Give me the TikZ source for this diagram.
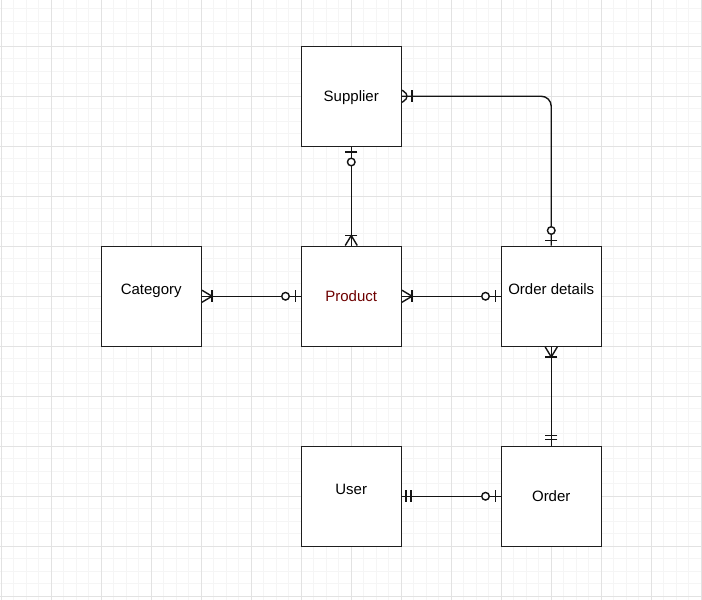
\documentclass[tikz,border=0pt]{standalone}
\usepackage{fontspec}
\setmainfont{Liberation Sans}
\usepackage{tikz}
\usetikzlibrary{decorations.markings}

\definecolor{gridminor}{RGB}{245,245,245}
\definecolor{gridmajor}{RGB}{226,226,226}
\definecolor{boxline}{RGB}{30,30,30}
\definecolor{productred}{RGB}{110,0,0}

\tikzset{
  entity/.style={draw=boxline, line width=1.5pt, fill=white, minimum size=100pt, inner sep=0pt,
    font=\fontsize{15}{18}\selectfont, text height=14pt, text depth=3pt},
  erline/.style={draw=black!92, line width=1.4pt},
  manystart/.style={postaction={decorate, decoration={markings, mark=at position 0 with {
    \draw[erline] (0pt,6pt) -- (10pt,0pt) -- (0pt,-6pt);
    \draw[erline] (10pt,6pt) -- (10pt,-6pt);}}}},
  manyend/.style={postaction={decorate, decoration={markings, mark=at position 1 with {
    \draw[erline] (0pt,6pt) -- (-10pt,0pt) -- (0pt,-6pt);
    \draw[erline] (-10pt,6pt) -- (-10pt,-6pt);}}}},
  zerostart/.style={postaction={decorate, decoration={markings, mark=at position 0 with {
    \draw[erline] (5pt,6pt) -- (5pt,-6pt);
    \draw[erline, fill=white] (15pt,0pt) circle (3.8pt);}}}},
  zeroend/.style={postaction={decorate, decoration={markings, mark=at position 1 with {
    \draw[erline] (-5pt,6pt) -- (-5pt,-6pt);
    \draw[erline, fill=white] (-15pt,0pt) circle (3.8pt);}}}},
  mandstart/.style={postaction={decorate, decoration={markings, mark=at position 0 with {
    \draw[erline] (4pt,6pt) -- (4pt,-6pt);
    \draw[erline] (9pt,6pt) -- (9pt,-6pt);}}}},
  mandend/.style={postaction={decorate, decoration={markings, mark=at position 1 with {
    \draw[erline] (-6pt,6pt) -- (-6pt,-6pt);
    \draw[erline] (-10pt,6pt) -- (-10pt,-6pt);}}}},
}

\begin{document}
\begin{tikzpicture}[x=1pt, y=-1pt,
    every label/.append style={font=\fontsize{15}{18}\selectfont, text height=14pt, text depth=3pt}]
  \useasboundingbox (0,0) rectangle (702,600);
  \fill[white] (0,0) rectangle (702,600);
  % grid
  \foreach \i in {0,...,56}
    \draw[gridminor, line width=0.9pt] ({1.25+12.5*\i},0) -- ({1.25+12.5*\i},600);
  \foreach \i in {0,...,47}
    \draw[gridminor, line width=0.9pt] (0,{8.75+12.5*\i}) -- (702,{8.75+12.5*\i});
  \foreach \i in {0,...,14}
    \draw[gridmajor, line width=1pt] ({1.25+50*\i},0) -- ({1.25+50*\i},600);
  \foreach \i in {0,...,11}
    \draw[gridmajor, line width=1pt] (0,{46.25+50*\i}) -- (702,{46.25+50*\i});

  % entities
  \node[entity] (sup) at (351.25,96.25) {Supplier};
  \node[entity, label={[yshift=7pt]center:Category}] (cat) at (151.25,296.25) {};
  \node[entity, text=productred] (prod) at (351.25,296.25) {Product};
  \node[entity, label={[yshift=7pt]center:Order details}] (od) at (551.25,296.25) {};
  \node[entity, label={[yshift=7pt]center:User}] (usr) at (351.25,496.25) {};
  \node[entity] (ord) at (551.25,496.25) {Order};

  % relations
  \draw[erline, manystart, zeroend] (cat) -- (prod);
  \draw[erline, manystart, zeroend] (prod) -- (od);
  \draw[erline, zerostart, manyend] (sup) -- (prod);
  \draw[erline, manystart, zeroend, rounded corners=10pt] (sup.east) -- (sup.east -| od.north) -- (od.north);
  \draw[erline, manystart, mandend] (od) -- (ord);
  \draw[erline, mandstart, zeroend] (usr) -- (ord);
\end{tikzpicture}
\end{document}
